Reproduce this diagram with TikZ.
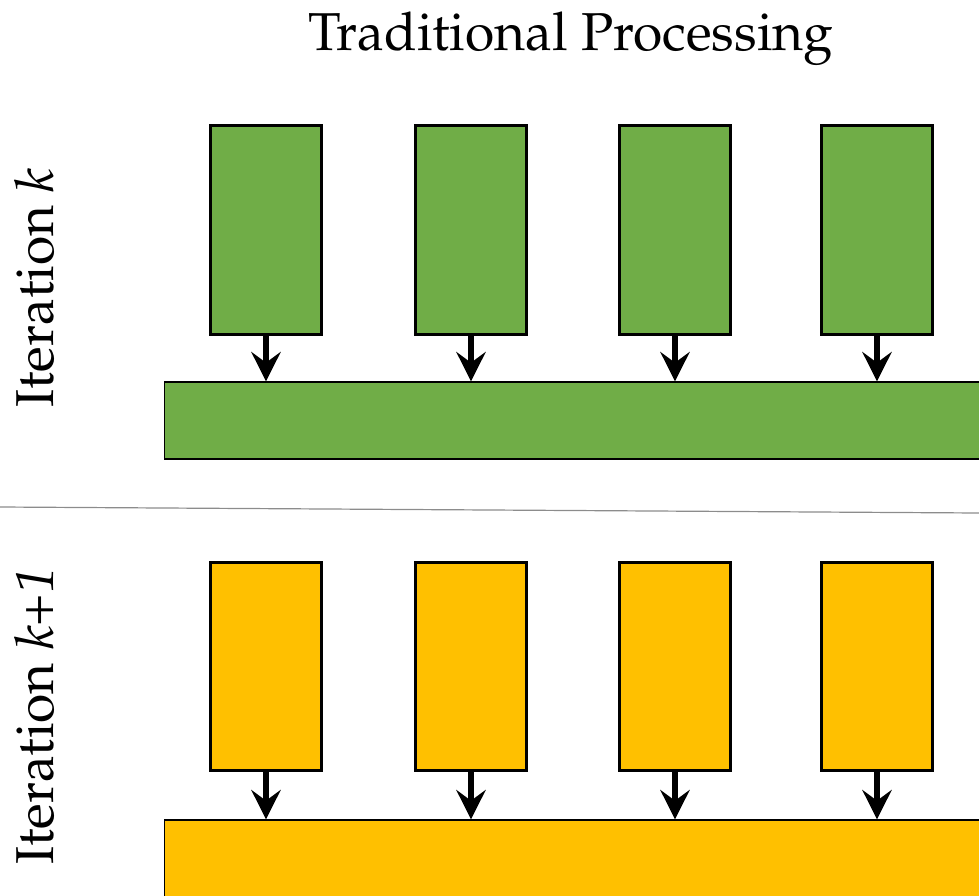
\documentclass[tikz,border=0pt]{standalone}
\usepackage[T1]{fontenc}
\usepackage{mathpazo}
\usetikzlibrary{arrows.meta}
\definecolor{pgreen}{HTML}{70AD47}
\definecolor{pyellow}{HTML}{FFC000}
\tikzset{
  small/.style={draw=black, line width=2.25pt, minimum width=83pt, minimum height=156.5pt, inner sep=0pt},
  bar/.style={draw=black, line width=1pt, minimum width=613.5pt, inner sep=0pt},
  arr/.style={line width=4pt, -{Stealth[length=22pt, width=22pt, inset=8pt]}},
  lbl/.style={font=\fontsize{40}{48}\selectfont, inner sep=0pt},
  sep/.style={draw=gray!90, line width=0.9pt}
}
\begin{document}
\begin{tikzpicture}[x=0.75pt, y=-0.75pt]
\useasboundingbox (0,0) rectangle (979,896);
% title
\node[lbl, anchor=base] (title) at (571,50) {Traditional Processing};
% labels
\node[lbl, anchor=base, rotate=90] (lk) at (53,288) {Iteration \textit{k}};
\node[lbl, anchor=base, rotate=90] (lk1) at (53,716) {Iteration \textit{k+1}};
% green row
\node[small, fill=pgreen] (g1) at (266,230) {};
\node[small, fill=pgreen] (g2) at (471,230) {};
\node[small, fill=pgreen] (g3) at (675,230) {};
\node[small, fill=pgreen] (g4) at (877,230) {};
\node[bar, fill=pgreen, minimum height=57.75pt] (gb) at (573.5,420.5) {};
\foreach \i in {1,...,4} \draw[arr] (g\i.south) -- (g\i.south |- gb.north);
% separator
\coordinate (s1) at (0,507);
\coordinate (s2) at (979,513);
\draw[sep] (s1) -- (s2);
% yellow row
\node[small, fill=pyellow] (y1) at (266,666.5) {};
\node[small, fill=pyellow] (y2) at (471,666.5) {};
\node[small, fill=pyellow] (y3) at (675,666.5) {};
\node[small, fill=pyellow] (y4) at (877,666.5) {};
\node[bar, fill=pyellow, minimum height=61.5pt] (yb) at (573.5,861) {};
\foreach \i in {1,...,4} \draw[arr] (y\i.south) -- (y\i.south |- yb.north);
\end{tikzpicture}
\end{document}
